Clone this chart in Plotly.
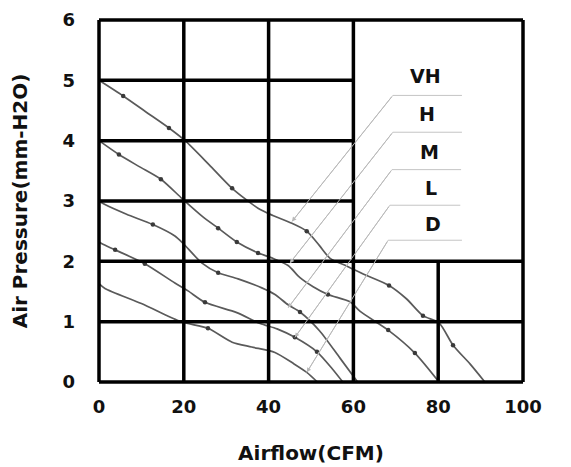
import plotly.graph_objects as go

# ---------------- data ----------------
series_names = ["VH", "H", "M", "L", "D"]

vh_x = [0, 5.7, 11, 16.5, 20.3, 26, 31.4, 37.5, 41, 45.5, 49, 52, 54.5, 58.5, 62.3, 68.4, 72.5, 76.4, 80.2, 83.5, 87.5, 91]
vh_y = [5.0, 4.74, 4.48, 4.21, 4.0, 3.6, 3.21, 2.88, 2.76, 2.63, 2.5, 2.26, 2.05, 1.92, 1.79, 1.6, 1.38, 1.1, 0.98, 0.61, 0.3, 0.0]

h_x = [0, 4.7, 9.5, 14.6, 19.6, 24.3, 28.1, 32.5, 37.5, 41, 44.6, 47.4, 50.5, 54, 59.2, 61.6, 68.2, 74.5, 80.2]
h_y = [4.0, 3.77, 3.57, 3.36, 3.04, 2.75, 2.55, 2.32, 2.14, 2.05, 1.93, 1.73, 1.58, 1.45, 1.33, 1.17, 0.86, 0.48, 0.0]

m_x = [0, 1.4, 6.5, 12.7, 17.9, 19.8, 24.3, 28.1, 32.8, 38.4, 41.5, 44.6, 47.4, 52, 56.8, 61]
m_y = [3.0, 2.94, 2.78, 2.61, 2.42, 2.3, 1.97, 1.81, 1.71, 1.56, 1.45, 1.28, 1.16, 0.85, 0.4, 0.0]

l_x = [0, 0.7, 3.8, 10.8, 17.9, 21, 25, 32.5, 38, 42, 46.2, 51.4, 55, 57.5]
l_y = [2.32, 2.29, 2.19, 1.96, 1.64, 1.51, 1.32, 1.15, 0.97, 0.88, 0.74, 0.5, 0.22, 0.0]

d_x = [0, 1.4, 10, 18.6, 21, 25.7, 31.4, 36, 41.5, 46, 49, 51.5]
d_y = [1.63, 1.55, 1.3, 1.02, 0.97, 0.89, 0.66, 0.58, 0.49, 0.3, 0.16, 0.0]

# dots drawn on the curves
vh_dot_x = [5.7, 16.5, 31.4, 49, 68.4, 76.4, 83.5]
vh_dot_y = [4.74, 4.21, 3.21, 2.5, 1.6, 1.1, 0.61]
h_dot_x = [4.7, 14.6, 28.1, 32.5, 37.5, 54, 68.2, 74.5]
h_dot_y = [3.77, 3.36, 2.55, 2.32, 2.14, 1.45, 0.86, 0.48]
m_dot_x = [12.7, 28.1, 47.4]
m_dot_y = [2.61, 1.81, 1.16]
l_dot_x = [3.8, 10.8, 25, 46.2, 51.4]
l_dot_y = [2.19, 1.96, 1.32, 0.74, 0.5]
d_dot_x = [25.7]
d_dot_y = [0.89]

x_ticks = [0, 20, 40, 60, 80, 100]
y_ticks = [0, 1, 2, 3, 4, 5, 6]

# partial grid: horizontal segments (y, x_from, x_to), vertical segments (x, y_from, y_to)
grid_h = [(6, 0, 100), (5, 0, 60), (4, 0, 60), (3, 0, 60), (2, 0, 100), (1, 0, 100), (0, 0, 100)]
grid_v = [(0, 0, 6), (20, 0, 6), (40, 0, 6), (60, 0, 6), (80, 0, 2), (100, 0, 6)]

# label callouts: label text position, leader elbow, leader end on curve
label_x = [76.9, 77.4, 78.0, 78.3, 78.8]
label_y = [5.08, 4.44, 3.82, 3.22, 2.62]
leader_y = [4.75, 4.14, 3.52, 2.93, 2.35]
leader_x0 = [69.3, 69.3, 69.1, 68.6, 68.2]
leader_x1 = [85.6, 85.6, 85.4, 85.2, 85.6]
leader_end_x = [45.5, 45.0, 44.6, 46.2, 49.0]
leader_end_y = [2.66, 1.97, 1.23, 0.74, 0.16]

curves = [(vh_x, vh_y, vh_dot_x, vh_dot_y), (h_x, h_y, h_dot_x, h_dot_y),
          (m_x, m_y, m_dot_x, m_dot_y), (l_x, l_y, l_dot_x, l_dot_y),
          (d_x, d_y, d_dot_x, d_dot_y)]

FONT = "DejaVu Sans"

fig = go.Figure()

for name, (cx, cy, dx, dy) in zip(series_names, curves):
    fig.add_trace(go.Scatter(x=cx, y=cy, mode="lines", name=name,
                             line=dict(color="#5a5a5a", width=1.7, shape="spline", smoothing=0.7),
                             showlegend=False, hoverinfo="skip"))
    fig.add_trace(go.Scatter(x=dx, y=dy, mode="markers", name=name + " pts",
                             marker=dict(color="#3a3a3a", size=4.5),
                             showlegend=False, hoverinfo="skip"))

# leader lines
for i, name in enumerate(series_names):
    fig.add_trace(go.Scatter(x=[leader_x1[i], leader_x0[i], leader_end_x[i]],
                             y=[leader_y[i], leader_y[i], leader_end_y[i]],
                             mode="lines", line=dict(color="#c4c4c4", width=1),
                             showlegend=False, hoverinfo="skip"))
    fig.add_annotation(x=leader_end_x[i], y=leader_end_y[i], ax=leader_x0[i], ay=leader_y[i],
                       xref="x", yref="y", axref="x", ayref="y", text="",
                       showarrow=True, arrowhead=2, arrowsize=0.9, arrowwidth=1,
                       arrowcolor="#b8b8b8")
    fig.add_annotation(x=label_x[i], y=label_y[i], xref="x", yref="y", text=name,
                       showarrow=False, font=dict(family=FONT, size=19, color="#111", weight="bold"))

shapes = []
for (gy, gx0, gx1) in grid_h:
    shapes.append(dict(type="line", xref="x", yref="y", x0=gx0, x1=gx1, y0=gy, y1=gy,
                       line=dict(color="black", width=3.5), layer="above"))
for (gx, gy0, gy1) in grid_v:
    shapes.append(dict(type="line", xref="x", yref="y", x0=gx, x1=gx, y0=gy0, y1=gy1,
                       line=dict(color="black", width=3.5), layer="above"))

fig.update_layout(
    width=571, height=467,
    margin=dict(l=88, r=53, t=10, b=91, autoexpand=False),
    paper_bgcolor="white", plot_bgcolor="white",
    shapes=shapes,
    font=dict(family=FONT, color="#111"),
    xaxis=dict(range=[-0.708, 100.708], tickvals=x_ticks, ticktext=[str(v) for v in x_ticks],
               showgrid=False, zeroline=False, showline=False, ticks="",
               ticklabelstandoff=10, ticklabeloverflow="allow",
               tickfont=dict(family=FONT, size=18, color="#111", weight="bold"),
               title=dict(text="Airflow(CFM)", standoff=29,
                          font=dict(family=FONT, size=20, color="#111", weight="bold"))),
    yaxis=dict(range=[-0.033, 6.033], tickvals=y_ticks, ticktext=[str(v) for v in y_ticks],
               showgrid=False, zeroline=False, showline=False, ticks="",
               ticklabelstandoff=20, ticklabeloverflow="allow",
               tickfont=dict(family=FONT, size=18, color="#111", weight="bold"),
               title=dict(text="Air Pressure(mm-H2O)", standoff=30,
                          font=dict(family=FONT, size=20, color="#111", weight="bold"))),
)

fig.write_html("out.html")
